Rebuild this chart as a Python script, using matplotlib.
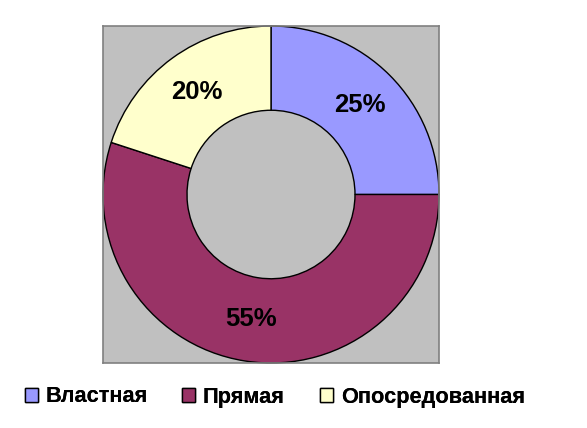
import matplotlib.pyplot as plt

labels = ['Властная', 'Прямая', 'Опосредованная']
values = [25, 55, 20]
colors = ['#9999FF', '#993366', '#FFFFCC']

plt.rcParams['font.family'] = ['Liberation Sans', 'DejaVu Sans']

fig = plt.figure(figsize=(5.87, 4.28), dpi=100)
ax = fig.add_axes([103/587, 65/428, 336/587, 337/428])

wedges, texts, autotexts = ax.pie(values, colors=colors, startangle=90, counterclock=False,
                                  radius=1.0, autopct='%d%%', pctdistance=0.75,
                                  wedgeprops=dict(width=0.5, edgecolor='black', linewidth=1))
for t in autotexts:
    t.set_fontsize(18.5)
    t.set_fontweight('bold')
    t.set_color('black')

ax.set_frame_on(True)
ax.set_facecolor('#C0C0C0')
ax.set_xlim(-1, 1)
ax.set_ylim(-1, 1)
ax.set_aspect('auto')
ax.set_xticks([])
ax.set_yticks([])
for s in ax.spines.values():
    s.set_color('#808080')
    s.set_linewidth(1.2)

# legend entries placed individually (uneven spacing in original)
leg_x = [25, 182, 320]
for w, lab, x in zip(wedges, labels, leg_x):
    leg = fig.legend([w], [lab], loc='center left', bbox_to_anchor=(x/587, 1 - 397/428),
                     frameon=False, handlelength=0.6, handleheight=0.6, handletextpad=0.35,
                     borderpad=0, borderaxespad=0, prop={'size': 15.7, 'weight': 'bold'})
    fig.add_artist(leg)

fig.savefig('out.png', dpi=100)
